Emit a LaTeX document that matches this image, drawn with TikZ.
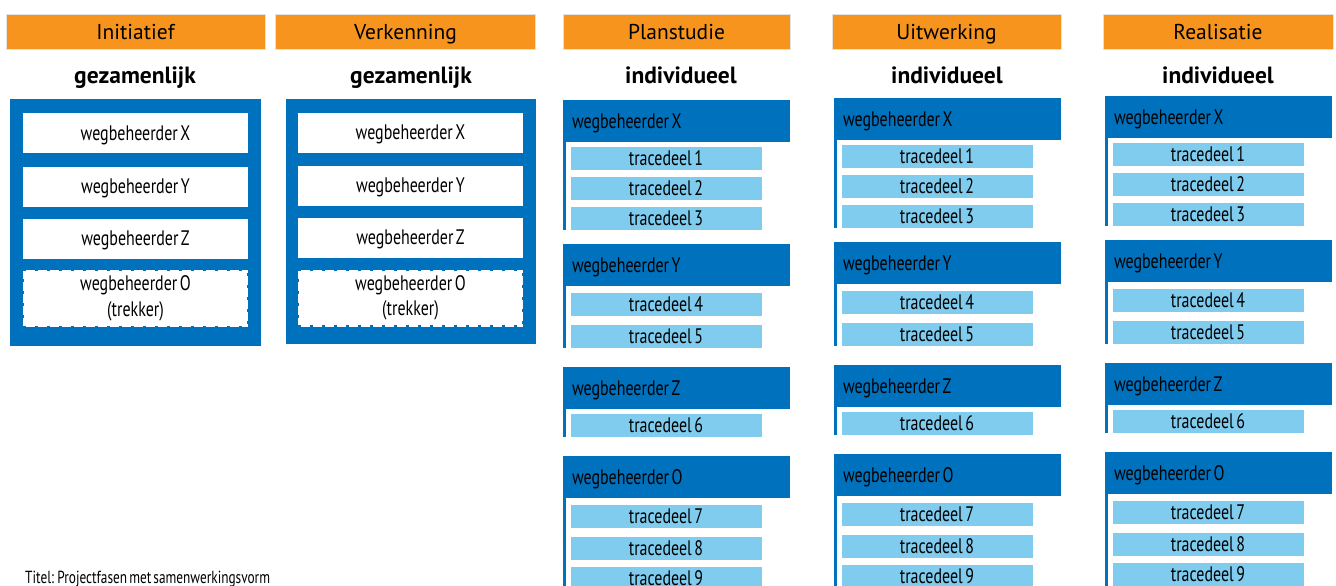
\documentclass[tikz,border=0pt]{standalone}
\usepackage{fontspec}
\setmainfont{PT Sans}
\newfontfamily\condfont[FakeStretch=0.76, WordSpace=0.6]{PT Sans}
\definecolor{orng}{HTML}{F7941D}
\definecolor{dblue}{HTML}{0071BC}
\definecolor{lblue}{HTML}{80CCEE}
\definecolor{edgegray}{HTML}{E2E2E2}
\tikzset{
  phase/.style={fill=orng, draw=edgegray, line width=1pt, minimum height=35pt, inner sep=0pt, text height=16pt, text depth=1pt, font=\fontsize{21.5}{25}\selectfont},
  mode/.style={inner sep=0pt, text height=17pt, text depth=1pt, font=\bfseries\fontsize{23.5}{26}\selectfont},
  frame/.style={fill=dblue, draw=none, inner sep=0pt},
  member/.style={fill=white, draw=none, inner sep=0pt, minimum width=225pt, minimum height=40pt, text height=16pt, text depth=2pt, font=\condfont\fontsize{21}{26}\selectfont},
  dashmember/.style={fill=white, draw=none, inner sep=0pt, minimum width=225pt, minimum height=57pt, align=center, font=\condfont\fontsize{21}{25.5}\selectfont, postaction={draw=dblue, line width=2.5pt, dash pattern=on 3pt off 9pt}},
  grouphead/.style={fill=dblue, draw=none, inner xsep=9pt, inner ysep=0pt, minimum width=227pt, minimum height=42pt, text height=16pt, text depth=2pt, font=\condfont\fontsize{21}{25}\selectfont},
  trace/.style={fill=lblue, draw=white, line width=1pt, inner sep=0pt, minimum width=192pt, minimum height=24pt, text height=16pt, text depth=2pt, font=\condfont\fontsize{21}{25}\selectfont},
  vline/.style={draw=dblue, line width=3pt},
  caption/.style={inner sep=0pt, font=\condfont\fontsize{17.5}{20}\selectfont}
}
\begin{document}
\begin{tikzpicture}[x=1pt, y=-1pt]
\useasboundingbox[fill=white] (0,0) rectangle (1336,586);

% phase headers
\node[phase, minimum width=259pt] (h1) at (135.5,32.5) {Initiatief};
\node[phase, minimum width=260pt] (h2) at (405.5,32.5) {Verkenning};
\node[phase, minimum width=227pt] (h3) at (676.5,32.5) {Planstudie};
\node[phase, minimum width=229pt] (h4) at (946.5,32.5) {Uitwerking};
\node[phase, minimum width=230pt] (h5) at (1218,32.5) {Realisatie};

% cooperation mode
\node[mode] (m1) at (135,75) {gezamenlijk};
\node[mode] (m2) at (411,75) {gezamenlijk};
\node[mode] (m3) at (681,75) {individueel};
\node[mode] (m4) at (947,75) {individueel};
\node[mode] (m5) at (1218,76) {individueel};

% joint frames
\node[frame, minimum width=251pt, minimum height=247pt] (f1) at (135.5,222.5) {};
\node[member] (f1x) at (135.5,133) {wegbeheerder X};
\node[member] (f1y) at (135.5,186.5) {wegbeheerder Y};
\node[member] (f1z) at (135.5,238.5) {wegbeheerder Z};
\node[dashmember] (f1o) at (135.5,298.5) {wegbeheerder O\\(trekker)};

\node[frame, minimum width=250pt, minimum height=245pt] (f2) at (410.5,221) {};
\node[member] (f2x) at (410.5,132.5) {wegbeheerder X};
\node[member] (f2y) at (410.5,185.5) {wegbeheerder Y};
\node[member] (f2z) at (410.5,237.5) {wegbeheerder Z};
\node[dashmember] (f2o) at (410.5,298) {wegbeheerder O\\(trekker)};

% individual columns
\foreach \cx/\dy/\c in {563/0/p,834/-2/u,1105/-4/r}{
  \foreach \g/\top/\list in {X/100/{1/158,2/188,3/218},Y/244/{4/304,5/336},Z/367/{6/425},O/456/{7/516,8/548,9/578}}{
    \node[grouphead] (\c\g) at (\cx+113.5,\top+\dy+21) {\makebox[209pt][l]{wegbeheerder \g}};
    \foreach \n/\yc in \list{
      \draw[vline] ([xshift=1.5pt]\c\g.south west) -- ([xshift=1.5pt,yshift=-12pt]\c\g.south west |- 0,\yc+\dy);
      \node[trace] (\c t\n) at (\cx+7+96,\yc+\dy) {tracedeel \n};
    }
  }
}

\node[caption, anchor=base west] (cap) at (25,583) {Titel: Projectfasen met samenwerkingsvorm};
\end{tikzpicture}
\end{document}
